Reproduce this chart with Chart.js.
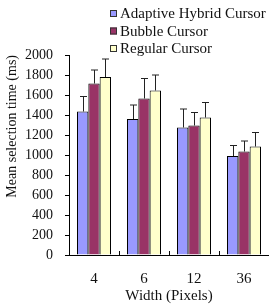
<!DOCTYPE html>
<html>
<head>
<meta charset="utf-8">
<script src="https://cdn.jsdelivr.net/npm/chart.js@4"></script>
<style>
  html, body { margin: 0; padding: 0; background: #fff; }
  #wrap { position: relative; width: 269px; height: 305px; }
</style>
</head>
<body>
<div id="wrap"><canvas id="c"></canvas></div>
<script>
const widths = ['4', '6', '12', '36'];
const seriesNames = ['Adaptive Hybrid Cursor', 'Bubble Cursor', 'Regular Cursor'];
const adaptive = [1435, 1360, 1275, 990];
const bubble = [1715, 1565, 1295, 1035];
const regular = [1780, 1645, 1375, 1085];
// upper half of each error bar (the lower half is hidden by the bar)
const adaptiveErr = [150, 140, 185, 105];
const bubbleErr = [135, 200, 130, 105];
const regularErr = [180, 155, 150, 140];
const yTicks = [0, 200, 400, 600, 800, 1000, 1200, 1400, 1600, 1800, 2000];

const colors = ['#9999FF', '#993366', '#FFFFCC'];
const FONT = "'Liberation Serif', 'Times New Roman', serif";
const errs = [adaptiveErr, bubbleErr, regularErr];

// error whiskers + inward category ticks on the x axis, legend block
const extras = {
  id: 'extras',
  afterDatasetsDraw(chart) {
    const ctx = chart.ctx, y = chart.scales.y, x = chart.scales.x;
    ctx.save();
    ctx.strokeStyle = '#222';
    ctx.lineWidth = 1;
    chart.data.datasets.forEach((ds, di) => {
      chart.getDatasetMeta(di).data.forEach((bar, i) => {
        const px = Math.round(bar.x) + 0.5;
        const top = y.getPixelForValue(ds.data[i] + errs[di][i]);
        ctx.beginPath();
        ctx.moveTo(px, bar.y);
        ctx.lineTo(px, top);
        ctx.moveTo(px - 3.5, top);
        ctx.lineTo(px + 3.5, top);
        ctx.stroke();
      });
    });
    ctx.strokeStyle = '#000';
    for (let i = 0; i < widths.length - 1; i++) {
      const px = Math.round((x.getPixelForValue(i) + x.getPixelForValue(i + 1)) / 2) + 0.5;
      ctx.beginPath();
      ctx.moveTo(px, chart.chartArea.bottom);
      ctx.lineTo(px, chart.chartArea.bottom - 4);
      ctx.stroke();
    }
    ctx.restore();
  },
  afterDraw(chart) {
    const ctx = chart.ctx;
    ctx.save();
    ctx.font = '15px ' + FONT;
    ctx.textBaseline = 'middle';
    seriesNames.forEach((name, i) => {
      const cy = 13.5 + i * 17.5;
      ctx.fillStyle = colors[i];
      ctx.fillRect(110, cy - 3.5, 7, 7);
      ctx.strokeStyle = '#333';
      ctx.strokeRect(110.5, cy - 3, 6, 6);
      ctx.fillStyle = '#111';
      ctx.fillText(name, 120, cy + 1);
    });
    ctx.restore();
  }
};

new Chart(document.getElementById('c'), {
  type: 'bar',
  data: {
    labels: widths,
    datasets: [
      { label: seriesNames[0], data: adaptive },
      { label: seriesNames[1], data: bubble },
      { label: seriesNames[2], data: regular }
    ].map((d, i) => ({
      ...d,
      backgroundColor: colors[i],
      borderColor: '#000',
      borderWidth: 1,
      borderSkipped: 'bottom',
      categoryPercentage: 0.68,
      barPercentage: 1.0
    }))
  },
  options: {
    responsive: true, maintainAspectRatio: false,
    animation: false,
    layout: { padding: { top: 55, right: 0, left: 0, bottom: 0 } },
    plugins: { legend: { display: false }, tooltip: { enabled: false } },
    scales: {
      x: {
        afterFit: (s) => { s.height = 50; },
        grid: { drawOnChartArea: false, drawTicks: false },
        border: { color: '#000', width: 1 },
        ticks: { color: '#111', font: { family: FONT, size: 15 }, padding: 15 },
        title: { display: true, text: 'Width (Pixels)', color: '#111',
          font: { family: FONT, size: 15 }, padding: { top: 0, bottom: 0 } }
      },
      y: {
        min: 0, max: 2000,
        afterFit: (s) => { s.width = 69; },
        afterBuildTicks: (s) => { s.ticks = yTicks.map(v => ({ value: v })); },
        grid: { drawOnChartArea: false, drawTicks: true, tickLength: 4, color: '#000' },
        border: { color: '#000', width: 1 },
        ticks: { color: '#111', font: { family: FONT, size: 14 }, padding: 12,
          callback: (v) => String(v) },
        title: { display: true, text: 'Mean selection time (ms)', color: '#111', align: 'end',
          font: { family: FONT, size: 14 }, padding: { top: 4, bottom: 4 } }
      }
    }
  },
  plugins: [extras]
});
</script>
</body>
</html>
